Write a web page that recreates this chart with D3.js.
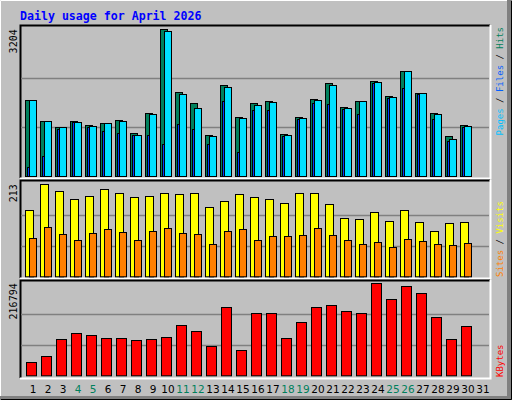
<!DOCTYPE html>
<html><head><meta charset="utf-8">
<script src="https://cdn.jsdelivr.net/npm/d3@7"></script>
<style>body{margin:0;background:#fff}svg{display:block}</style>
</head><body><svg id="c" width="512" height="400"></svg>
<script>
const days = d3.range(1, 32);
const weekendDays = [4, 5, 11, 12, 18, 19, 25, 26];
const hits  = [1660,1201,1064,1195,1107,1158,1217,933,1369,3204,1828,1588,889,1981,1289,1588,1638,917,1282,1682,2031,1500,1638,2075,1747,2293,1813,1369,867,1114];
const files = [1650,1195,1064,1173,1092,1150,1195,902,1347,3173,1784,1479,867,1944,1267,1544,1616,889,1260,1660,1987,1479,1638,2053,1725,2293,1813,1348,808,1092];
const pages = [197,430,1020,1173,1064,976,933,902,889,692,1129,1020,692,1631,518,1441,1441,874,1245,1601,1572,1457,1348,2038,1710,1915,1791,1245,764,1077];
const visits = [153,213,197,178,185,201,194,183,185,194,190,192,160,174,190,183,178,169,194,194,167,134,132,150,127,153,125,104,123,125];
const sites  = [88,113,97,83,100,109,102,83,106,111,100,97,74,104,109,83,93,93,95,111,95,83,74,79,67,86,81,74,72,76];
const kbytes = [30630,44770,84820,98960,94240,87180,87180,82460,84820,89530,117800,103660,68320,160200,58900,146070,146070,87180,124870,160200,164900,150780,146070,216794,179050,209680,193190,136650,84820,115440];

const svg = d3.select("#c");
const W = 512, H = 400;
svg.append("rect").attr("width", W).attr("height", H).attr("fill", "#c0c0c0");
// bevel frame
svg.append("path").attr("d", `M0.5,${H} V0.5 H${W}`).attr("stroke", "#fff").attr("fill", "none");
svg.append("rect").attr("x", W - 5).attr("y", 0).attr("width", 5).attr("height", H).attr("fill", "#808080");
svg.append("rect").attr("x", 0).attr("y", H - 4).attr("width", W).attr("height", 4).attr("fill", "#808080");
svg.append("path").attr("d", `M1,${H-0.5} H${W-0.5} V1`).attr("stroke", "#000").attr("fill", "none");

svg.append("text").attr("x", 20).attr("y", 20).text("Daily usage for April 2026")
  .attr("font-family", "DejaVu Sans Mono").attr("font-weight", "bold").attr("font-size", 11.6).attr("fill", "#0000ff");

const x = d3.scaleBand().domain(days).range([25, 25 + 15 * 31]).paddingInner(0);
const L = 20, R = 490;

function panel(top, bottom, base, maxY, maxV, label) {
  // border
  svg.append("path").attr("d", `M${L+0.5},${bottom} V${top+0.5} H${R}`).attr("stroke", "#000").attr("stroke-width", 2).attr("fill", "none");
  svg.append("path").attr("d", `M${L},${bottom+0.5} H${R+0.5} V${top}`).attr("stroke", "#fff").attr("stroke-width", 2).attr("fill", "none");
  const y = d3.scaleLinear().domain([0, maxV]).range([base, maxY]);
  [maxV / 3, maxV * 2 / 3].forEach(v => {
    svg.append("line").attr("x1", L + 1).attr("x2", R - 1).attr("y1", Math.round(y(v)) + 0.5).attr("y2", Math.round(y(v)) + 0.5)
      .attr("stroke", "#808080").attr("stroke-width", 1.5);
  });
  svg.append("text").attr("transform", `translate(17,${maxY}) rotate(-90)`).attr("text-anchor", "end")
    .attr("font-family", "DejaVu Sans Mono").attr("font-size", 10).attr("fill", "#000").text(label);
  return y;
}
function bars(y, data, dx, w, color) {
  svg.append("g").selectAll("rect").data(data).join("rect")
    .attr("x", (d, i) => x(days[i]) + dx + 0.5).attr("width", w)
    .attr("y", d => Math.round(y(d)) + 0.5).attr("height", d => y(0) - Math.round(y(d)))
    .attr("fill", color).attr("stroke", "#000").attr("stroke-width", 1);
}

const y1 = panel(25, 178, 176, 29.3, d3.max(hits), d3.max(hits).toString());
bars(y1, hits, 0, 7, "#00805c");
bars(y1, pages, 2, 7, "#0040ff");
bars(y1, files, 4, 7, "#00e0ff");

const y2 = panel(180, 278, 276.3, 184.3, d3.max(visits), d3.max(visits).toString());
bars(y2, visits, 0, 8, "#ffff00");
bars(y2, sites, 4, 7, "#ff8000");

const y3 = panel(280, 378, 375.3, 283.3, d3.max(kbytes), d3.max(kbytes).toString());
bars(y3, kbytes, 1, 10, "#ff0000");

// right labels
function rlabel(yy, anchor, parts) {
  const t = svg.append("text").attr("transform", `translate(503,${yy}) rotate(-90)`).attr("text-anchor", anchor)
    .attr("font-family", "DejaVu Sans Mono").attr("font-size", 9);
  parts.forEach(p => t.append("tspan").attr("fill", p[1]).text(p[0]));
}
rlabel(27, "end", [["Pages", "#00c0ff"], [" / ", "#000"], ["Files", "#0060ff"], [" / ", "#000"], ["Hits", "#00805c"]]);
rlabel(277, "start", [["Sites", "#ff8000"], [" / ", "#000"], ["Visits", "#ffff00"]]);
rlabel(377, "start", [["KBytes", "#ff0000"]]);

// day labels
svg.append("g").selectAll("text").data(days).join("text")
  .attr("x", d => x(d) + 8).attr("y", 393).attr("text-anchor", "middle")
  .attr("font-family", "DejaVu Sans").attr("font-size", 10.5)
  .attr("fill", d => weekendDays.includes(d) ? "#00805c" : "#000").text(d => d);
</script></body></html>
